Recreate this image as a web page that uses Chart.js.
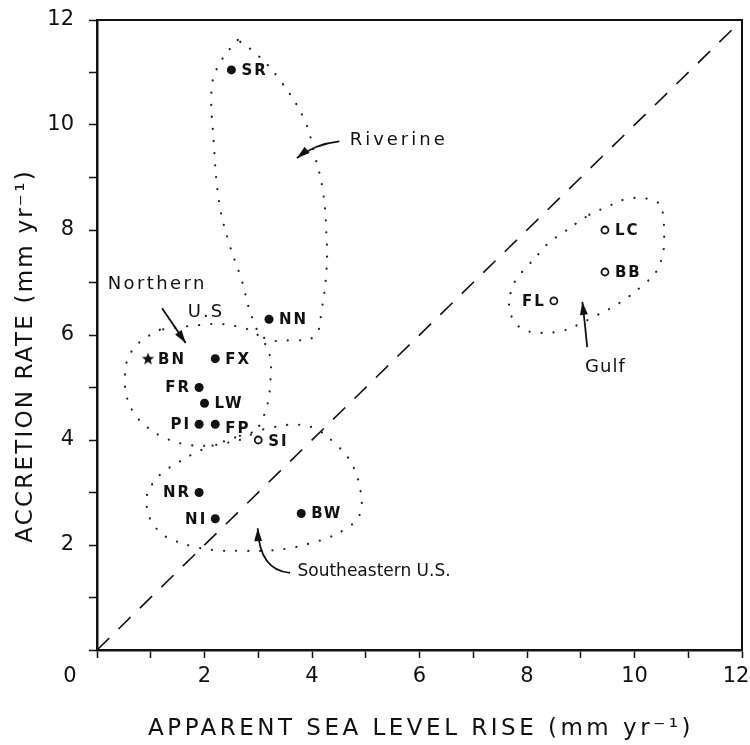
<!DOCTYPE html>
<html>
<head>
<meta charset="utf-8">
<script src="https://cdn.jsdelivr.net/npm/chart.js@4.4.0/dist/chart.umd.min.js"></script>
<style>
    body { margin: 0; background: #ffffff; }
    #grafico { display: block; }
</style>
</head>
<body>
<canvas id="grafico" width="750" height="745"></canvas>
<script>
// locais
let siglas = ['SR', 'NN', 'BN', 'FX', 'FR', 'LW', 'PI', 'FP', 'SI', 'NR', 'NI', 'BW', 'LC', 'BB', 'FL'];
let elevacaoMar = [2.5, 3.2, 0.95, 2.2, 1.9, 2.0, 1.9, 2.2, 3.0, 1.9, 2.2, 3.8, 9.45, 9.45, 8.5];
let acrecao = [11.05, 6.3, 5.55, 5.55, 5.0, 4.7, 4.3, 4.3, 4.0, 3.0, 2.5, 2.6, 8.0, 7.2, 6.65];
let tipoSimbolo = ['cheio', 'cheio', 'estrela', 'cheio', 'cheio', 'cheio', 'cheio', 'cheio', 'vazio',
    'cheio', 'cheio', 'cheio', 'vazio', 'vazio', 'vazio'];

let ticksEixo = [0, 2, 4, 6, 8, 10, 12];

// contornos pontilhados dos grupos
let riverineX = [2.62, 2.32, 2.14, 2.17, 2.28, 2.47, 2.69, 2.90, 3.12, 3.59, 4.05, 4.18, 4.27, 4.27, 4.20, 4.05, 3.86, 3.40, 2.99, 2.62];
let riverineY = [11.62, 11.24, 10.76, 9.71, 8.48, 7.71, 7.05, 6.29, 5.94, 5.90, 5.98, 6.48, 7.24, 7.90, 8.76, 9.43, 10.10, 10.86, 11.33, 11.62];
let norteX = [1.17, 0.80, 0.58, 0.52, 0.56, 0.71, 0.95, 1.26, 1.63, 2.01, 2.38, 2.75, 2.99, 3.14, 3.21, 3.23, 3.23, 3.14, 2.94, 2.66, 2.28, 1.91, 1.54, 1.17];
let norteY = [6.10, 5.87, 5.56, 5.18, 4.80, 4.48, 4.23, 4.04, 3.92, 3.89, 3.94, 4.04, 4.23, 4.57, 4.91, 5.24, 5.52, 5.81, 6.04, 6.15, 6.21, 6.19, 6.15, 6.10];
let sudesteX = [2.66, 3.31, 3.77, 4.11, 4.42, 4.66, 4.81, 4.90, 4.92, 4.83, 4.61, 4.33, 3.99, 3.59, 3.12, 2.66, 2.19, 1.76, 1.45, 1.21, 1.02, 0.93, 0.93, 1.04, 1.23, 1.49, 1.78, 2.14, 2.66];
let sudesteY = [4.08, 4.25, 4.29, 4.19, 3.94, 3.68, 3.39, 3.05, 2.72, 2.48, 2.30, 2.15, 2.04, 1.94, 1.89, 1.89, 1.90, 1.98, 2.08, 2.21, 2.44, 2.70, 2.95, 3.18, 3.39, 3.56, 3.73, 3.89, 4.08];
let golfoX = [9.16, 9.44, 9.96, 10.46, 10.53, 10.55, 10.51, 10.40, 10.18, 9.72, 9.23, 8.94, 8.66, 8.23, 7.95, 7.77, 7.67, 7.71, 7.82, 8.01, 8.23, 8.42, 8.66, 8.92, 9.16];
let golfoY = [8.29, 8.42, 8.61, 8.51, 8.29, 7.75, 7.47, 7.20, 6.97, 6.61, 6.34, 6.19, 6.08, 6.04, 6.10, 6.25, 6.53, 6.86, 7.09, 7.31, 7.56, 7.77, 7.94, 8.13, 8.29];

// textos dos grupos e setas (em unidades dos eixos)
let grupos = ['Riverine', 'Northern', 'U.S', 'Gulf', 'Southeastern U.S.'];
let gruposX = [4.70, 0.20, 1.69, 9.08, 3.73];
let gruposY = [9.71, 6.97, 6.44, 5.39, 1.49];

let setas = [
    [4.51, 9.69, 4.05, 9.64, 3.72, 9.37],
    [1.21, 6.51, 1.43, 6.18, 1.65, 5.85],
    [9.12, 5.77, 9.08, 6.20, 9.03, 6.63],
    [3.59, 1.47, 3.02, 1.52, 2.99, 2.32]
];

let ladoRotulo = {
    SR: 'dir', NN: 'dir', BN: 'dir', FX: 'dir', FR: 'esq', LW: 'dir', PI: 'esq', FP: 'dir',
    SI: 'dir', NR: 'esq', NI: 'esq', BW: 'dir', LC: 'dir', BB: 'dir', FL: 'esq'
};

function juntar(xs, ys) {
    let pts = [];
    for (let i = 0; i < xs.length; i++) {
        pts.push({ x: xs[i], y: ys[i] });
    }
    return pts;
}

function pontosDoTipo(tipo) {
    let pts = [];
    for (let i = 0; i < siglas.length; i++) {
        if (tipoSimbolo[i] == tipo) {
            pts.push({ x: elevacaoMar[i], y: acrecao[i] });
        }
    }
    return pts;
}

function criarEstrela() {
    let c = document.createElement('canvas');
    c.width = 14;
    c.height = 14;
    let g = c.getContext('2d');
    g.fillStyle = '#111';
    g.beginPath();
    for (let i = 0; i < 10; i++) {
        let r = i % 2 == 0 ? 6.5 : 2.8;
        let ang = -Math.PI / 2 + i * Math.PI / 5;
        g.lineTo(7 + r * Math.cos(ang), 7.5 + r * Math.sin(ang));
    }
    g.closePath();
    g.fill();
    return c;
}

function contorno(xs, ys) {
    return {
        data: juntar(xs, ys),
        showLine: true,
        borderColor: '#222',
        borderWidth: 2.2,
        borderDash: [0.1, 12],
        borderCapStyle: 'round',
        tension: 0.4,
        pointRadius: 0,
        fill: false
    };
}

function escrever(ctx, texto, x, y, tamanho, espaco, alinhar, peso) {
    ctx.font = (peso || 'normal') + ' ' + tamanho + 'px "DejaVu Sans"';
    ctx.letterSpacing = espaco + 'px';
    ctx.textAlign = alinhar;
    ctx.textBaseline = 'middle';
    ctx.fillText(texto, x, y);
}

function desenharSeta(ctx, p) {
    ctx.lineWidth = 1.8;
    ctx.beginPath();
    ctx.moveTo(p[0], p[1]);
    ctx.quadraticCurveTo(p[2], p[3], p[4], p[5]);
    ctx.stroke();
    let ang = Math.atan2(p[5] - p[3], p[4] - p[2]);
    let comp = 13, larg = 4;
    ctx.beginPath();
    ctx.moveTo(p[4], p[5]);
    ctx.lineTo(p[4] - comp * Math.cos(ang) + larg * Math.sin(ang), p[5] - comp * Math.sin(ang) - larg * Math.cos(ang));
    ctx.lineTo(p[4] - comp * Math.cos(ang) - larg * Math.sin(ang), p[5] - comp * Math.sin(ang) + larg * Math.cos(ang));
    ctx.closePath();
    ctx.fill();
}

const decoracao = {
    id: 'decoracao',
    afterDatasetsDraw(chart) {
        let ctx = chart.ctx;
        let area = chart.chartArea;
        let sx = chart.scales.x;
        let sy = chart.scales.y;

        ctx.save();
        ctx.fillStyle = '#111';
        ctx.strokeStyle = '#111';

        // moldura de cima e da direita
        ctx.lineWidth = 2;
        ctx.beginPath();
        ctx.moveTo(area.left, area.top);
        ctx.lineTo(area.right, area.top);
        ctx.lineTo(area.right, area.bottom);
        ctx.stroke();

        // rótulos do eixo x (o 12 fica encostado na borda)
        for (let i = 0; i < ticksEixo.length; i++) {
            let v = ticksEixo[i];
            let px = v == 0 ? area.left - 27 : Math.min(sx.getPixelForValue(v), 736);
            escrever(ctx, String(v), px, area.bottom + 27, 21, 0, 'center');
        }

        // rótulos dos locais
        for (let i = 0; i < siglas.length; i++) {
            let px = sx.getPixelForValue(elevacaoMar[i]);
            let py = sy.getPixelForValue(acrecao[i]);
            if (ladoRotulo[siglas[i]] == 'dir') {
                let dy = siglas[i] == 'FP' ? 5 : (siglas[i] == 'SI' ? 2 : 1);
                escrever(ctx, siglas[i], px + 10, py + dy, 15, 2, 'left', 'bold');
            } else {
                escrever(ctx, siglas[i], px - 8, py + 1, 15, 2, 'right', 'bold');
            }
        }

        // nomes dos grupos
        let espacos = [3, 2.4, 2, 1, 0];
        for (let i = 0; i < grupos.length; i++) {
            escrever(ctx, grupos[i], sx.getPixelForValue(gruposX[i]), sy.getPixelForValue(gruposY[i]),
                i == 4 ? 17 : 18, espacos[i], 'left');
        }

        // setas
        for (let i = 0; i < setas.length; i++) {
            let s = setas[i];
            desenharSeta(ctx, [
                sx.getPixelForValue(s[0]), sy.getPixelForValue(s[1]),
                sx.getPixelForValue(s[2]), sy.getPixelForValue(s[3]),
                sx.getPixelForValue(s[4]), sy.getPixelForValue(s[5])
            ]);
        }

        // títulos dos eixos
        escrever(ctx, 'APPARENT SEA LEVEL RISE (mm yr\u207B\u00B9)', 421, 729, 23, 3.5, 'center');
        ctx.translate(26, 356);
        ctx.rotate(-Math.PI / 2);
        escrever(ctx, 'ACCRETION RATE (mm yr\u207B\u00B9)', 0, 0, 23, 2.2, 'center');

        ctx.restore();
    }
};

let configEixo = function (eixo) {
    return {
        type: 'linear',
        min: 0,
        max: 12,
        border: { display: true, color: '#111', width: 2.5 },
        grid: {
            drawOnChartArea: false,
            drawTicks: true,
            tickLength: 8,
            tickWidth: 1.5,
            color: '#111'
        },
        ticks: {
            stepSize: 1,
            autoSkip: false,
            maxRotation: 0,
            color: eixo == 'y' ? '#111' : 'rgba(0,0,0,0)',
            font: { family: 'DejaVu Sans', size: 21 },
            padding: eixo == 'y' ? 15 : 5,
            callback: function (valor) {
                if (valor != 0 && ticksEixo.indexOf(valor) >= 0) {
                    return String(valor);
                }
                return '';
            }
        },
        afterFit: function (escala) {
            // sem folga extra pelos rótulos das pontas
            escala.paddingLeft = 0;
            escala.paddingRight = 0;
            escala.paddingTop = 0;
            escala.paddingBottom = 0;
            if (eixo == 'y') {
                escala.width = 97;
            } else {
                escala.height = 95;
            }
        }
    };
};

let dados = {
    datasets: [
        {
            data: [{ x: 0, y: 0 }, { x: 12, y: 12 }],
            showLine: true,
            borderColor: '#111',
            borderWidth: 1.6,
            borderDash: [17, 13],
            pointRadius: 0
        },
        contorno(riverineX, riverineY),
        contorno(norteX, norteY),
        contorno(sudesteX, sudesteY),
        contorno(golfoX, golfoY),
        {
            data: pontosDoTipo('cheio'),
            pointStyle: 'circle',
            pointRadius: 4.5,
            backgroundColor: '#111',
            borderColor: '#111',
            borderWidth: 0
        },
        {
            data: pontosDoTipo('vazio'),
            pointStyle: 'circle',
            pointRadius: 3.5,
            backgroundColor: '#ffffff',
            borderColor: '#111',
            borderWidth: 1.8
        },
        {
            data: pontosDoTipo('estrela'),
            pointStyle: criarEstrela(),
            pointRadius: 7
        }
    ]
};

let config = {
    type: 'scatter',
    data: dados,
    options: {
        responsive: false,
        animation: false,
        layout: { padding: { top: 20, right: 7, left: 0, bottom: 0 } },
        plugins: {
            legend: { display: false },
            tooltip: { enabled: false }
        },
        scales: {
            x: configEixo('x'),
            y: configEixo('y')
        }
    },
    plugins: [decoracao]
};

let meuGrafico = new Chart(document.getElementById('grafico'), config);
</script>
</body>
</html>
